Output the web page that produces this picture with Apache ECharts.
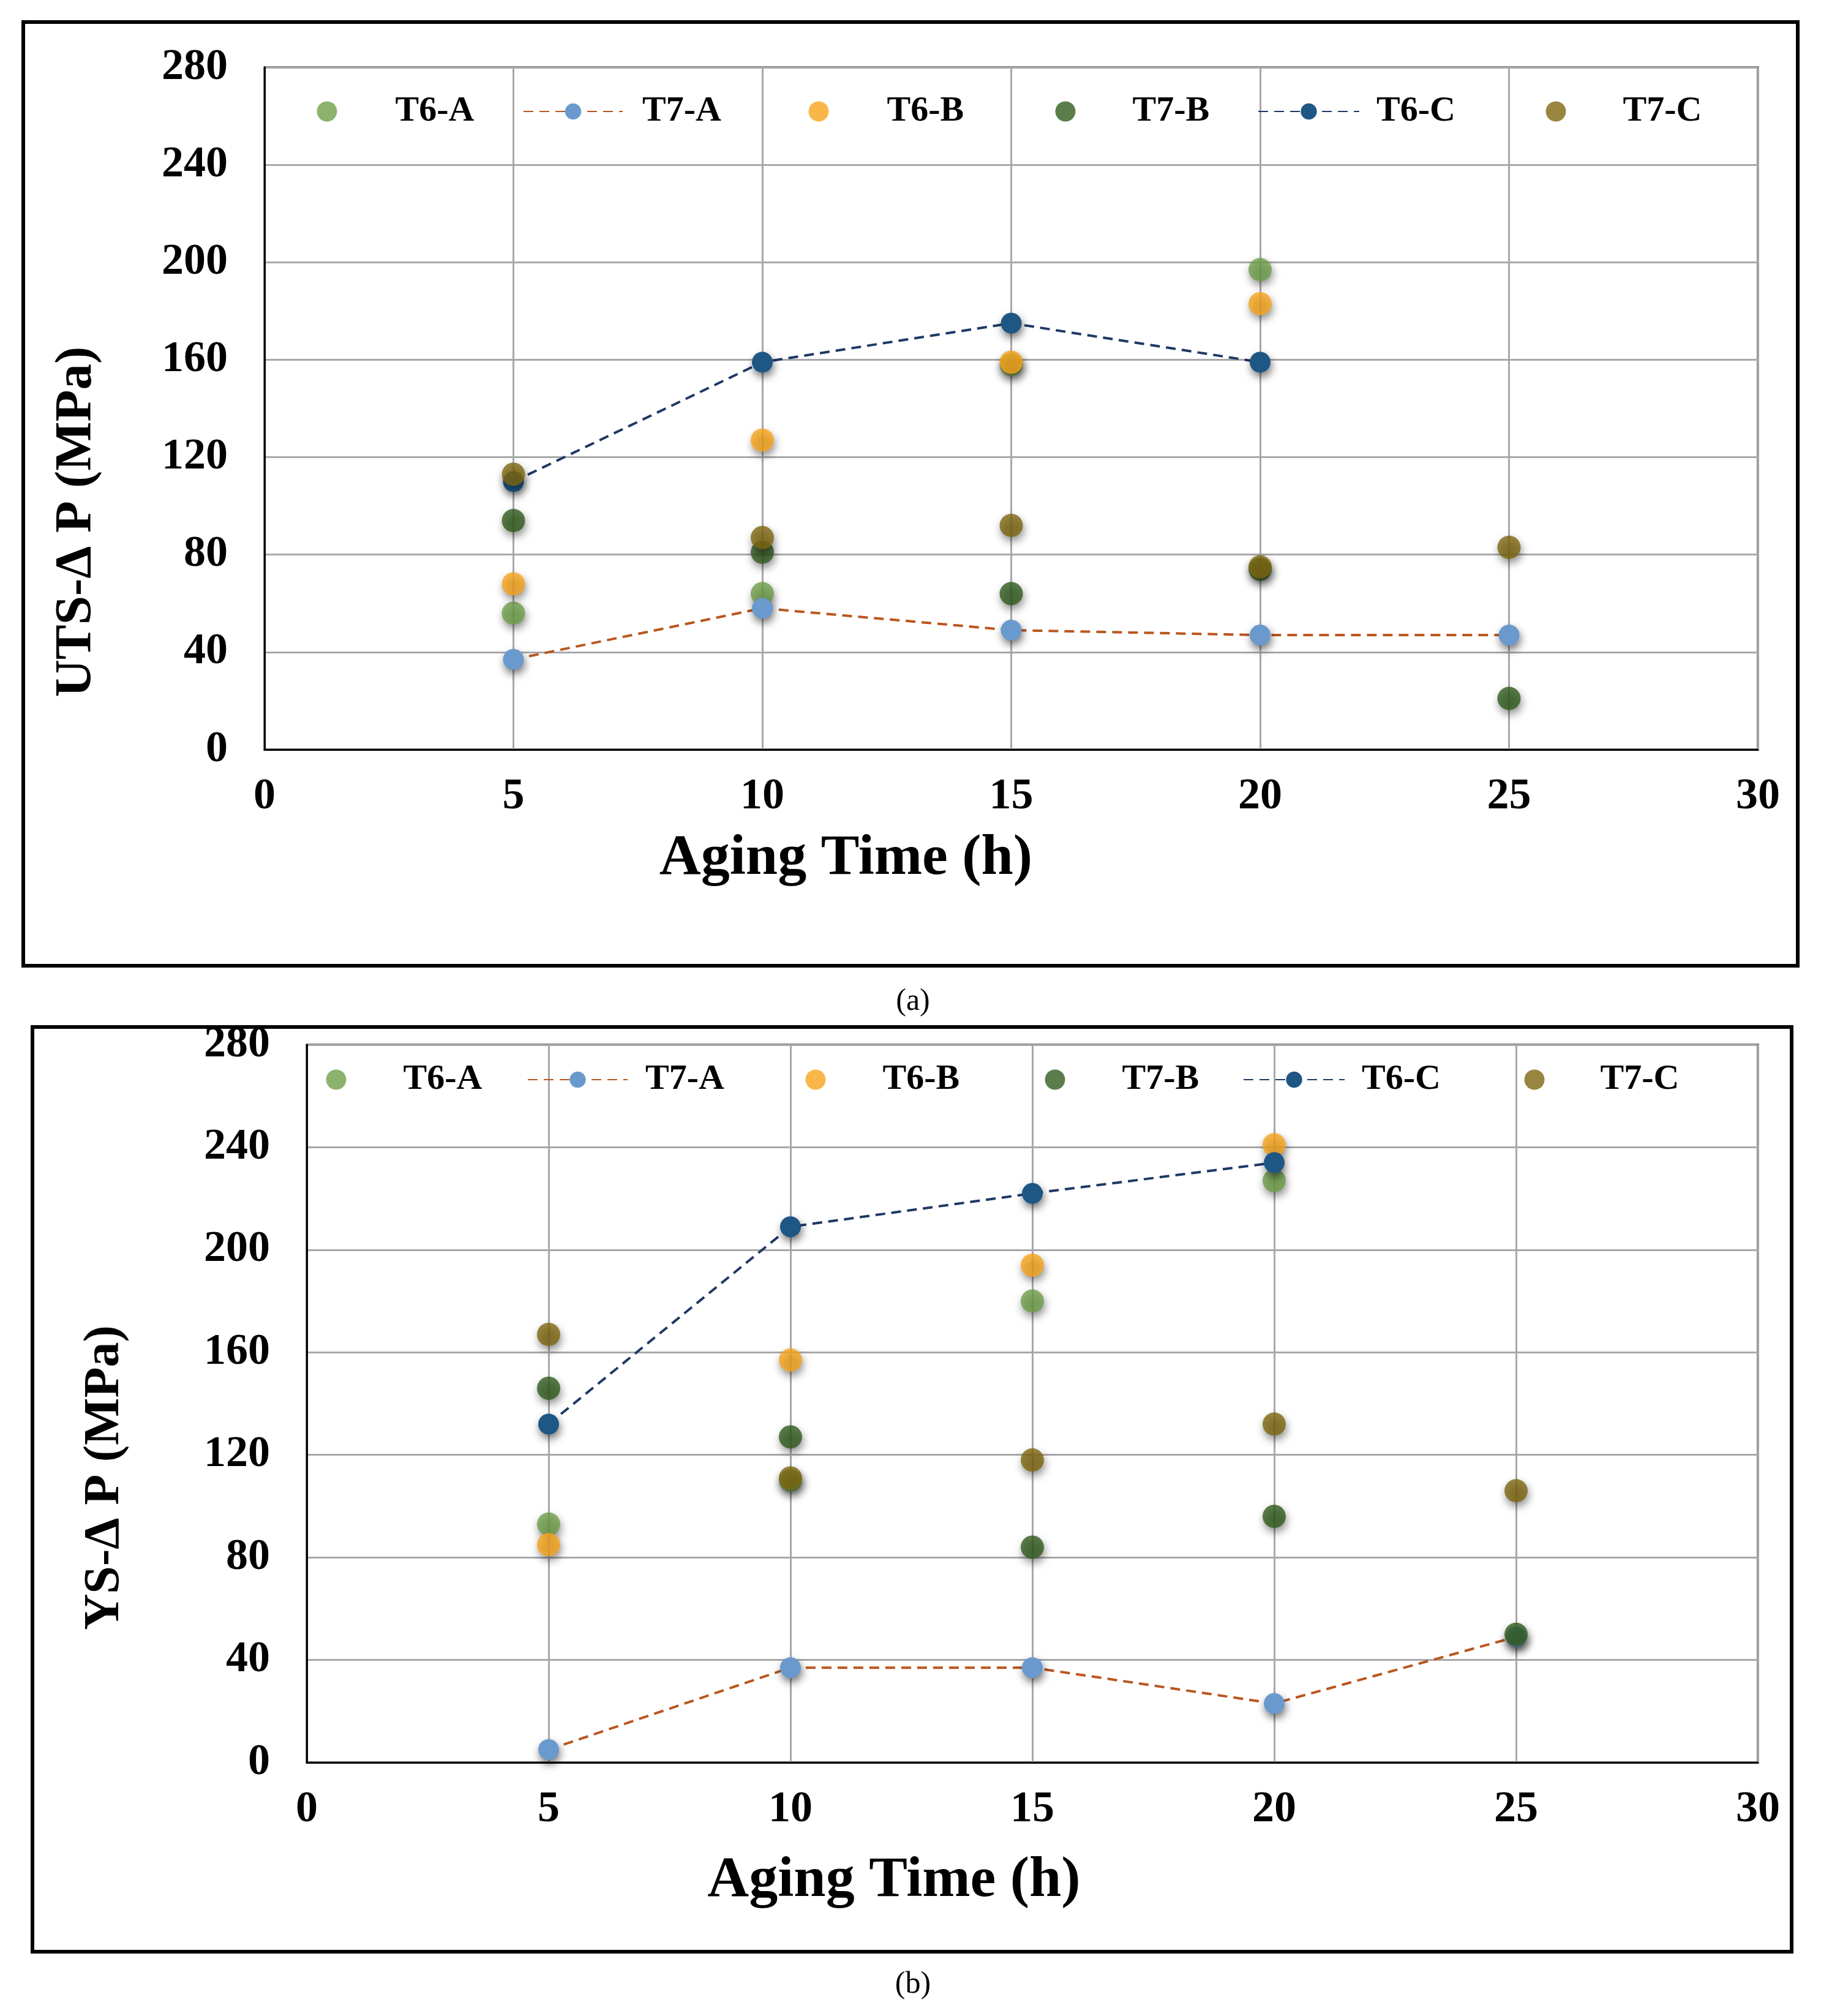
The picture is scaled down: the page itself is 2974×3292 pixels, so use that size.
<!DOCTYPE html>
<html>
<head>
<meta charset="utf-8">
<script src="https://cdn.jsdelivr.net/npm/echarts@6/dist/echarts.min.js"></script>
<style>
html,body{margin:0;padding:0;background:#fff;}
#chart{width:2974px;height:3292px;}
</style>
</head>
<body>
<div id="chart"></div>
<script>
// ---- data ----
const hours = [5, 10, 15, 20, 25];
const seriesNames = ['T6-A', 'T7-A', 'T6-B', 'T7-B', 'T6-C', 'T7-C'];
const yTicks = [0, 40, 80, 120, 160, 200, 240, 280];
const xTicks = [0, 5, 10, 15, 20, 25, 30];

// (a) UTS-ΔP (MPa)
const utsT6A = [56, 64, 158, 197, null];
const utsT7A = [37, 58, 49, 47, 47];
const utsT6B = [68, 127, 159, 183, null];
const utsT7B = [94, 81, 64, 74, 21];
const utsT6C = [110, 159, 175, 159, null];
const utsT7C = [113, 87, 92, 75, 83];

// (b) YS-ΔP (MPa)
const ysT6A = [93, 110, 180, 227, null];
const ysT7A = [5, 37, 37, 23, 49];
const ysT6B = [85, 157, 194, 241, null];
const ysT7B = [146, 127, 84, 96, 50];
const ysT6C = [132, 209, 222, 234, null];
const ysT7C = [167, 111, 118, 132, 106];

const titleA = 'UTS-Δ P (MPa)';
const titleB = 'YS-Δ P (MPa)';
const xTitle = 'Aging Time (h)';

// ---- styling ----
const FONT = '"Liberation Serif", "Times New Roman", serif';
const colors = {
  'T6-A': '#6FA04A',
  'T7-A': '#6A9ACD',
  'T6-B': '#F9A51B',
  'T7-B': '#325C1E',
  'T6-C': '#1E5684',
  'T7-C': '#7E6810'
};
const lineColors = { 'T7-A': '#B9561F', 'T6-C': '#1F3864' };

function pairs(arr) {
  const out = [];
  hours.forEach((h, i) => { if (arr[i] !== null && arr[i] !== undefined) out.push([h, arr[i]]); });
  return out;
}

function makeSeries(dataArrs, gi) {
  return seriesNames.map((name, k) => {
    const isLine = name === 'T7-A' || name === 'T6-C';
    const s = {
      name: name,
      type: isLine ? 'line' : 'scatter',
      xAxisIndex: gi,
      yAxisIndex: gi,
      data: pairs(dataArrs[k]),
      symbol: 'circle',
      symbolSize: isLine ? 34 : 38,
      itemStyle: {
        color: colors[name],
        shadowBlur: 14,
        shadowColor: 'rgba(0,0,0,0.55)',
        shadowOffsetX: 2,
        shadowOffsetY: 7
      },
      z: 3 + k
    };
    if (isLine) {
      s.lineStyle = { color: lineColors[name], width: 4, type: [16, 10] };
      s.showSymbol = true;
    }
    return s;
  });
}

const axisLabelStyle = { fontFamily: FONT, fontWeight: 'bold', fontSize: 72, color: '#000' };
const splitStyle = { show: true, lineStyle: { color: '#A8A8A8', width: 3 } };

function xAxis(gi, padR, gap) {
  return {
    type: 'value', gridIndex: gi, min: 0, max: 30, interval: 5,
    axisLine: { show: true, lineStyle: { color: '#000', width: 3 } },
    axisTick: { show: false },
    axisLabel: Object.assign({ margin: 41 }, axisLabelStyle),
    splitLine: splitStyle,
    name: xTitle, nameLocation: 'middle', nameGap: gap,
    nameTextStyle: { fontFamily: FONT, fontWeight: 'bold', fontSize: 94, color: '#000', padding: [0, padR, 0, 0] }
  };
}
function yAxis(gi, name, size, padR, gap) {
  return {
    type: 'value', gridIndex: gi, min: 0, max: 280, interval: 40,
    axisLine: { show: true, lineStyle: { color: '#000', width: 3 } },
    axisTick: { show: false },
    axisLabel: Object.assign({ margin: 60 }, axisLabelStyle),
    splitLine: splitStyle,
    name: name, nameLocation: 'middle', nameGap: gap,
    nameTextStyle: { fontFamily: FONT, fontWeight: 'bold', fontSize: size, color: '#000', padding: [0, padR, 0, 0] }
  };
}
// one legend component per entry, so each entry sits where the reference puts it
function legendEntry(name, left, top, iconWidth, padLeft) {
  return {
    data: [name],
    left: left, top: top,
    orient: 'horizontal',
    itemWidth: iconWidth, itemHeight: 33,
    itemStyle: { shadowBlur: 0, shadowOffsetX: 0, shadowOffsetY: 0 },
    textStyle: { fontFamily: FONT, fontWeight: 'bold', fontSize: 58, color: '#000', padding: [0, 0, 0, padLeft] },
    selectedMode: false
  };
}
const legends = [
  // (a)
  legendEntry('T6-A', 529 - 16.5, 148, 33, 90),
  legendEntry('T7-A', 849, 148, 162, 27),
  legendEntry('T6-B', 1332 - 16.5, 148, 33, 90),
  legendEntry('T7-B', 1735 - 16.5, 148, 33, 88),
  legendEntry('T6-C', 2049, 148, 165, 23),
  legendEntry('T7-C', 2536 - 16.5, 148, 33, 88),
  // (b)
  legendEntry('T6-A', 544 - 16.5, 1729, 33, 88),
  legendEntry('T7-A', 856, 1729, 163, 24),
  legendEntry('T6-B', 1327 - 16.5, 1729, 33, 88),
  legendEntry('T7-B', 1718 - 16.5, 1729, 33, 88),
  legendEntry('T6-C', 2025, 1729, 165, 23),
  legendEntry('T7-C', 2501 - 16.5, 1729, 33, 86)
];

const chart = echarts.init(document.getElementById('chart'), null, { renderer: 'canvas' });
const option = {
  backgroundColor: '#fff',
  animation: false,
  grid: [
    { left: 432, top: 110, width: 2439, height: 1114, show: true, borderColor: '#000', borderWidth: 3, backgroundColor: 'transparent' },
    { left: 501, top: 1706, width: 2370, height: 1172, show: true, borderColor: '#000', borderWidth: 3, backgroundColor: 'transparent' }
  ],
  xAxis: [xAxis(0, 540, 132), xAxis(1, 452, 147)],
  yAxis: [yAxis(0, titleA, 85, 370, 263), yAxis(1, titleB, 82, 242, 288)],
  legend: legends,
  series: makeSeries([utsT6A, utsT7A, utsT6B, utsT7B, utsT6C, utsT7C], 0)
    .concat(makeSeries([ysT6A, ysT7A, ysT6B, ysT7B, ysT6C, ysT7C], 1)),
  graphic: [
    { type: 'rect', shape: { x: 38, y: 36, width: 2898, height: 1541 }, style: { fill: 'none', stroke: '#000', lineWidth: 6 }, silent: true },
    { type: 'rect', shape: { x: 53, y: 1677, width: 2873, height: 1510 }, style: { fill: 'none', stroke: '#000', lineWidth: 6 }, silent: true },
    { type: 'text', x: 1491, y: 1636, style: { text: '(a)', fontFamily: FONT, fontSize: 50, fill: '#000', align: 'center', verticalAlign: 'middle' } },
    { type: 'text', x: 1491, y: 3241, style: { text: '(b)', fontFamily: FONT, fontSize: 50, fill: '#000', align: 'center', verticalAlign: 'middle' } }
  ]
};
chart.setOption(option);
</script>
</body>
</html>
